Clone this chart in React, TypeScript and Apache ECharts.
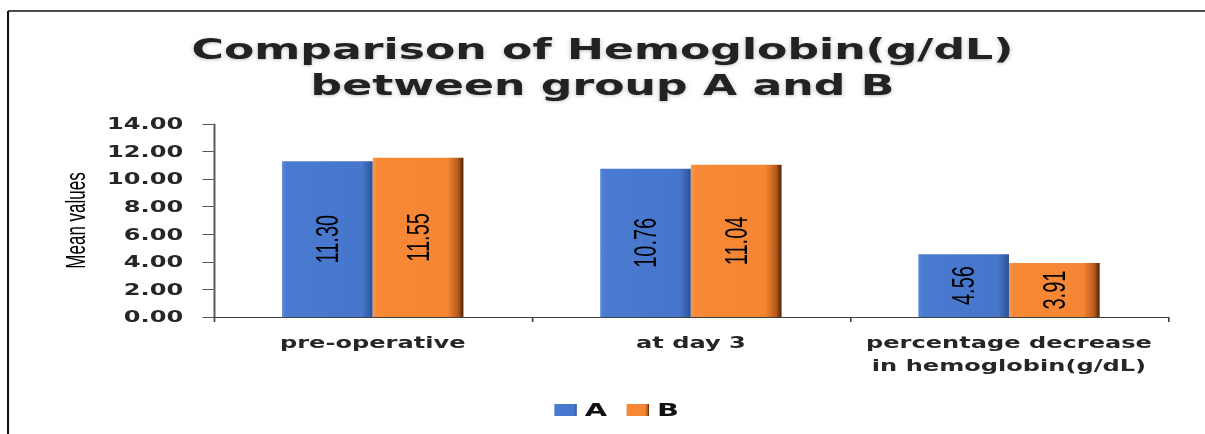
import React, { useEffect, useRef } from "react";
import * as echarts from "echarts";

// ---- data ----
const categories = ["pre-operative", "at day 3", "percentage decrease\nin hemoglobin(g/dL)"];
const seriesNames = ["A", "B"];
const valuesA = [11.3, 10.76, 4.56];
const valuesB = [11.55, 11.04, 3.91];
const yMin = 0;
const yMax = 14;
const yInterval = 2;
const titleText = "Comparison of Hemoglobin(g/dL)\nbetween group A and B";
const yAxisName = "Mean values";

// internal drawing width; the picture is stretched horizontally to 1205px
const W = 750;
const H = 434;
const S = 1205 / W;

const blueFill = () =>
  new echarts.graphic.LinearGradient(0, 0, 1, 0, [
    { offset: 0, color: "#5b88d8" },
    { offset: 0.05, color: "#4a7bd1" },
    { offset: 0.88, color: "#4676cc" },
    { offset: 1, color: "#2c5293" },
  ]);
const orangeFill = () =>
  new echarts.graphic.LinearGradient(0, 0, 1, 0, [
    { offset: 0, color: "#f59a55" },
    { offset: 0.05, color: "#f78836" },
    { offset: 0.82, color: "#f68634" },
    { offset: 0.94, color: "#b85a1c" },
    { offset: 1, color: "#4a2208" },
  ]);

export default function App() {
  const ref = useRef<HTMLDivElement>(null);

  useEffect(() => {
    if (!ref.current) return;
    const chart = echarts.init(ref.current, null, { renderer: "svg" });
    const label = {
      show: true,
      position: "inside",
      rotate: 90,
      color: "#000",
      fontFamily: "'Liberation Sans Narrow', 'Liberation Sans', Arial, sans-serif",
      fontSize: 20,
      formatter: (p: any) => Number(p.value).toFixed(2),
    };
    chart.setOption({
      animation: false,
      backgroundColor: "#ffffff",
      title: {
        text: titleText,
        left: "center",
        top: 27,
        textStyle: {
          fontFamily: "'DejaVu Sans', sans-serif",
          fontWeight: "bold",
          fontSize: 27.5,
          lineHeight: 36,
          color: "#222",
          textShadowColor: "rgba(0,0,0,0.25)",
          textShadowBlur: 3,
          textShadowOffsetY: 1,
        },
      },
      legend: {
        data: seriesNames,
        left: 340,
        top: 396,
        icon: "rect",
        itemWidth: 14,
        itemHeight: 12,
        itemGap: 12,
        textStyle: {
          fontFamily: "'DejaVu Sans', sans-serif",
          fontWeight: "bold",
          fontSize: 18,
          color: "#111",
        },
      },
      grid: { left: 133, right: 23, top: 124, bottom: 117, containLabel: false },
      xAxis: {
        type: "category",
        data: categories,
        axisLine: { lineStyle: { color: "#404040", width: 1.2 } },
        axisTick: { show: true, length: 5, lineStyle: { color: "#404040" } },
        axisLabel: {
          interval: 0,
          margin: 14,
          fontFamily: "'DejaVu Sans', sans-serif",
          fontWeight: "bold",
          fontSize: 15,
          lineHeight: 23,
          color: "#262626",
        },
      },
      yAxis: {
        type: "value",
        min: yMin,
        max: yMax,
        interval: yInterval,
        name: yAxisName,
        nameLocation: "middle",
        nameGap: 76,
        nameRotate: 90,
        nameTextStyle: {
          fontFamily: "'Liberation Sans', Arial, sans-serif",
          fontSize: 17,
          color: "#000",
        },
        axisLine: { show: true, lineStyle: { color: "#555", width: 1.2 } },
        axisTick: { show: true, length: 7, lineStyle: { color: "#555" } },
        splitLine: { show: false },
        axisLabel: {
          margin: 19,
          fontFamily: "'DejaVu Sans', sans-serif",
          fontWeight: "bold",
          fontSize: 15,
          color: "#262626",
          formatter: (v: number) => v.toFixed(2),
        },
      },
      series: [
        {
          name: seriesNames[0],
          type: "bar",
          data: valuesA,
          barGap: "0%",
          barCategoryGap: "43%",
          itemStyle: { color: blueFill() },
          label,
        },
        {
          name: seriesNames[1],
          type: "bar",
          data: valuesB,
          barGap: "0%",
          barCategoryGap: "43%",
          itemStyle: { color: orangeFill() },
          label,
        },
      ],
      graphic: [
        {
          type: "line",
          silent: true,
          shape: { x1: 5, y1: 11, x2: W, y2: 11 },
          style: { stroke: "#111", lineWidth: 1.5 },
        },
        {
          type: "line",
          silent: true,
          shape: { x1: 5, y1: 11, x2: 5, y2: H },
          style: { stroke: "#111", lineWidth: 1.3 },
        },
      ],
    });
    return () => chart.dispose();
  }, []);

  return (
    <div
      ref={ref}
      style={{
        position: "fixed",
        left: 0,
        top: 0,
        width: W,
        height: H,
        transform: `scaleX(${S})`,
        transformOrigin: "0 0",
      }}
    />
  );
}
